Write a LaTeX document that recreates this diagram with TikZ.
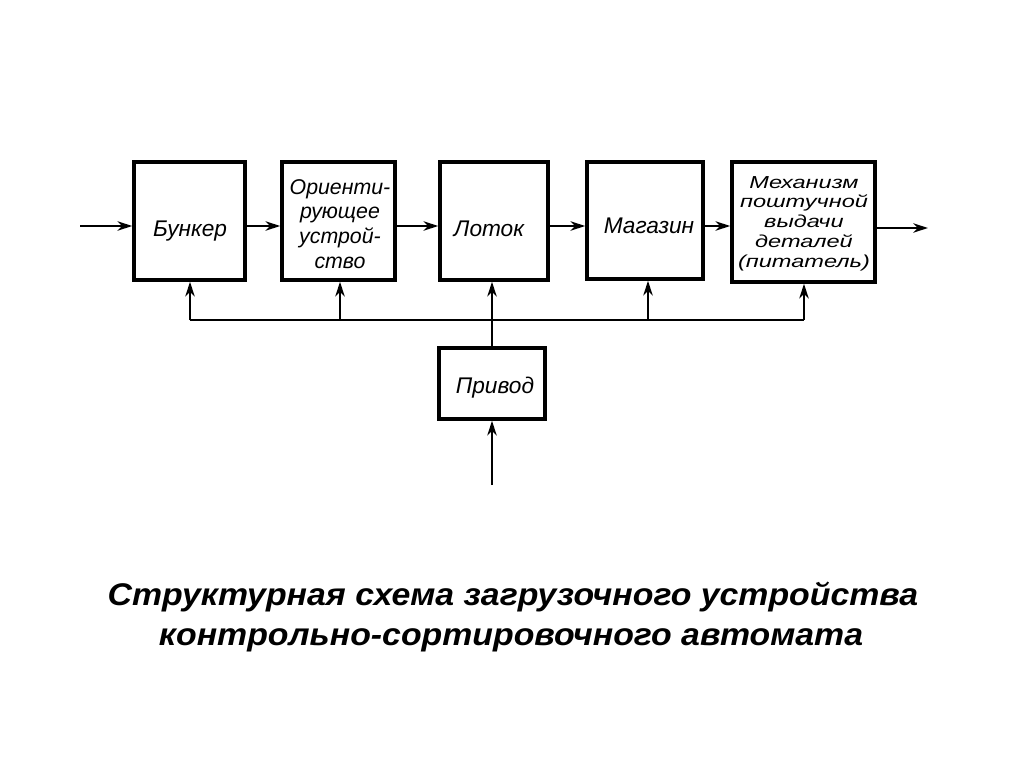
\documentclass[tikz,border=0pt]{standalone}
\usepackage{fontspec}
\setmainfont{Liberation Sans}
\newfontfamily\boxfont{Liberation Sans Italic}
\newfontfamily\wideboxfont[FakeStretch=1.36]{Liberation Sans Italic}
\newfontfamily\titlefont[FakeStretch=1.08]{Liberation Sans Bold Italic}
\usetikzlibrary{arrows.meta}
\begin{document}
\begin{tikzpicture}[x=0.75pt,y=-0.75pt,
  blk/.style={draw,line width=2.6pt,inner sep=0pt},
  lbl/.style={anchor=base,inner sep=0pt,align=center,font=\boxfont\fontsize{17}{18.5}\selectfont},
  conn/.style={line width=1.6pt},
  arr/.style={conn,-{Stealth[length=11pt,width=7pt,inset=3.5pt]}},
  ttl/.style={anchor=base,inner sep=0pt,font=\titlefont\fontsize{23.5}{28}\selectfont}]
\useasboundingbox (0,0) rectangle (1024,767);
\node[blk,minimum width=83.25pt,minimum height=88.5pt] (bunker) at (189.5,221) {};
\node[blk,minimum width=84.75pt,minimum height=88.5pt] (orient) at (338.5,221) {};
\node[blk,minimum width=81pt,minimum height=88.5pt] (lotok) at (494,221) {};
\node[blk,minimum width=87pt,minimum height=87.75pt] (magazin) at (645,220.5) {};
\node[blk,minimum width=107.25pt,minimum height=90pt] (mech) at (803.5,222) {};
\node[blk,minimum width=79.5pt,minimum height=53.25pt] (privod) at (492,383.5) {};
\node[lbl] (bunkerT) at (190,236) {Бункер};
\node[lbl,font=\boxfont\fontsize{16}{18.5}\selectfont] (orientT) at (340,268) {Ориенти-\\рующее\\устрой-\\ство};
\node[lbl] (lotokT) at (489,236) {Лоток};
\node[lbl] (magazinT) at (649,233) {Магазин};
\node[lbl,font=\wideboxfont\fontsize{13}{14.8}\selectfont] (mechT) at (804,267) {Механизм\\поштучной\\выдачи\\деталей\\(питатель)};
\node[lbl] (privodT) at (495,393) {Привод};
\coordinate (in) at (80,226);
\coordinate (out) at (928,228);
\coordinate (src) at (492,485);
\coordinate (busL) at (190,320);
\coordinate (busR) at (804,320);
\draw[arr] (in) -- (bunker.west |- in);
\draw[arr] (bunker.east |- 0,226) -- (orient.west |- 0,226);
\draw[arr] (orient.east |- 0,226) -- (lotok.west |- 0,226);
\draw[arr] (lotok.east |- 0,226) -- (magazin.west |- 0,226);
\draw[arr] (magazin.east |- 0,226) -- (mech.west |- 0,226);
\draw[arr] (mech.east |- out) -- (out);
\draw[conn] (busL) -- (busR);
\draw[arr] (busL) -- (bunker.south -| busL);
\draw[arr] (340,320) -- (orient.south -| 340,0);
\draw[arr] (privod.north) -- (lotok.south -| privod.north);
\draw[arr] (648,320) -- (magazin.south -| 648,0);
\draw[arr] (busR) -- (mech.south -| busR);
\draw[arr] (src) -- (privod.south);
\node[ttl] (title1) at (513,605) {Структурная схема загрузочного устройства};
\node[ttl] (title2) at (511,645) {контрольно-сортировочного автомата};
\end{tikzpicture}
\end{document}
